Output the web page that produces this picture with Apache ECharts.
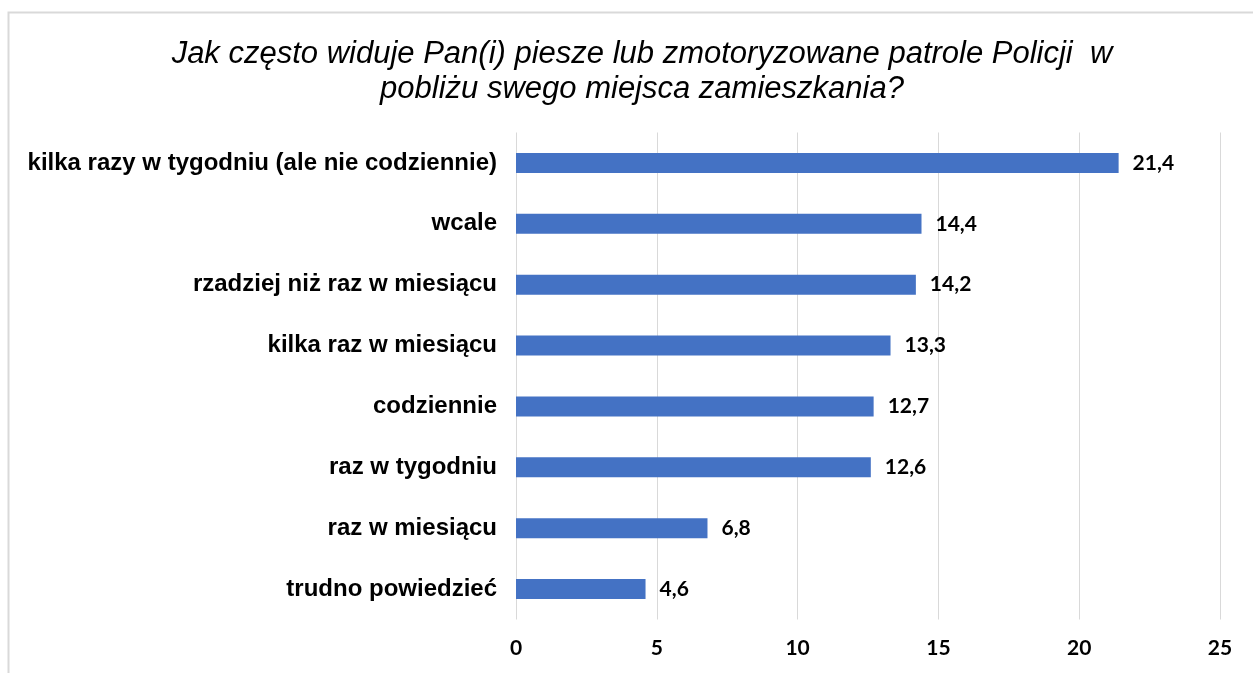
<!DOCTYPE html>
<html>
<head>
<meta charset="utf-8">
<script src="https://cdn.jsdelivr.net/npm/echarts@6/dist/echarts.min.js"></script>
<style>
  html, body { margin: 0; padding: 0; background: #fff; }
  #chart { width: 1253px; height: 673px; }
</style>
</head>
<body>
<div id="chart"></div>
<script>
//  kategorie (od góry do dołu)
const categories = [
    'kilka razy w tygodniu (ale nie codziennie)',
    'wcale',
    'rzadziej niż raz w miesiącu',
    'kilka raz w miesiącu',
    'codziennie',
    'raz w tygodniu',
    'raz w miesiącu',
    'trudno powiedzieć'
];
//  wartości w %
const values = [21.4, 14.4, 14.2, 13.3, 12.7, 12.6, 6.8, 4.6];
const titleText = 'Jak często widuje Pan(i) piesze lub zmotoryzowane patrole Policji  w\npobliżu swego miejsca zamieszkania?';

const myChart = echarts.init(document.getElementById('chart'));
myChart.setOption({
    backgroundColor: '#fff',
    animation: false,
    graphic: [{
        type: 'rect',
        shape: {x: 8.5, y: 12.5, width: 1300, height: 700},
        style: {fill: 'none', stroke: '#d9d9d9', lineWidth: 2}
    }],
    title: {
        text: titleText,
        left: 637,
        textAlign: 'center',
        top: 32,
        textStyle: {
            fontFamily: 'Liberation Sans',
            fontStyle: 'italic',
            fontWeight: 'normal',
            fontSize: 31,
            lineHeight: 35,
            color: '#000'
        }
    },
    grid: {left: 516, right: 33, top: 132.5, bottom: 53.5},
    xAxis: {
        type: 'value',
        min: 0,
        max: 25,
        interval: 5,
        axisLine: {show: false},
        axisTick: {show: false},
        splitLine: {lineStyle: {color: '#d9d9d9', width: 1}},
        axisLabel: {
            margin: 18,
            fontFamily: 'Lato',
            fontWeight: 'bold',
            fontSize: 21,
            color: '#000'
        }
    },
    yAxis: {
        type: 'category',
        inverse: true,
        data: categories,
        axisLine: {show: false},
        axisTick: {show: false},
        axisLabel: {
            margin: 19,
            fontFamily: 'Liberation Sans',
            fontWeight: 'bold',
            fontSize: 24,
            color: '#000'
        }
    },
    series: [{
        type: 'bar',
        data: values,
        barWidth: 20,
        itemStyle: {color: '#4472C4'},
        label: {
            show: true,
            position: 'right',
            distance: 14,
            fontFamily: 'Lato',
            fontWeight: 'bold',
            fontSize: 21,
            color: '#000',
            formatter: function (p) {
                return p.value.toFixed(1).replace('.', ',');
            }
        }
    }]
});
</script>
</body>
</html>
